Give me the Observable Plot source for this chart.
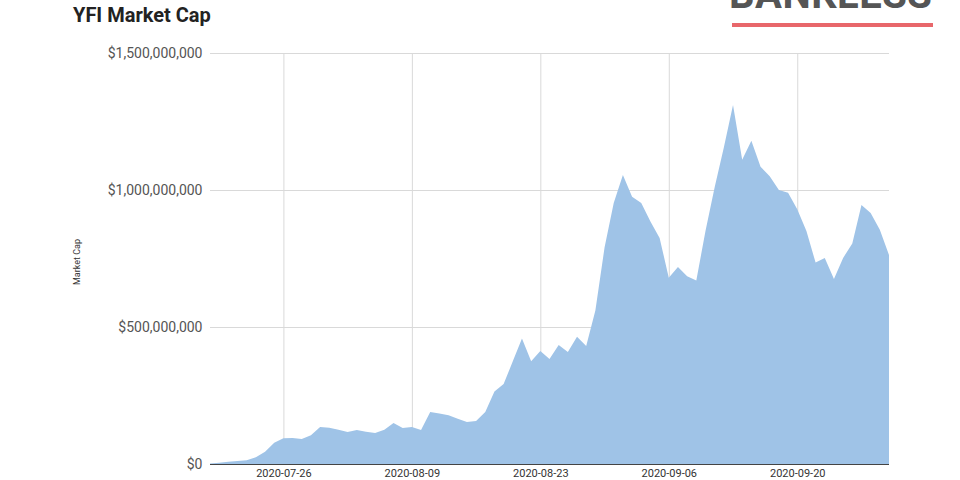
<!DOCTYPE html>
<html>
<head>
<meta charset="utf-8">
<script src="https://cdn.jsdelivr.net/npm/d3@7"></script>
<script src="https://cdn.jsdelivr.net/npm/@observablehq/plot@0.6"></script>
<style>
  html, body { margin: 0; padding: 0; background: #fff; }
  #wrap { position: relative; width: 960px; height: 480px; overflow: hidden; font-family: Roboto, "Open Sans", sans-serif; }
  #title { position: absolute; left: 73px; top: 3px; font-size: 20px; font-weight: 700; color: #222; }
  #logo { position: absolute; left: 729px; top: -25px; font-size: 40px; line-height: 40px; font-weight: 700; color: #555; letter-spacing: 0.5px; }
  #logobar { position: absolute; left: 732px; top: 23px; width: 201px; height: 4px; background: #e8676b; }
  #ylab { position: absolute; left: 77px; top: 262px; font-size: 9px; color: #333; transform: translate(-50%, -50%) rotate(-90deg); white-space: nowrap; }
  svg { position: absolute; left: 0; top: 0; }
</style>
</head>
<body>
<div id="wrap">
  <div id="chart"></div>
  <div id="title">YFI Market Cap</div>
  <div id="logo">BANKLESS</div>
  <div id="logobar"></div>
  <div id="ylab">Market Cap</div>
</div>
<script>
const startDate = "2020-07-18";
const marketCap = [
  2e6, 5e6, 8e6, 11e6, 14e6, 25e6, 45e6, 78e6, 94e6, 95e6,
  91e6, 105e6, 135e6, 132e6, 125e6, 117e6, 124e6, 118e6, 113e6, 125e6,
  150e6, 131e6, 135e6, 124e6, 190e6, 184e6, 178e6, 165e6, 153e6, 157e6,
  190e6, 265e6, 292e6, 375e6, 458e6, 375e6, 412e6, 383e6, 434e6, 409e6,
  464e6, 431e6, 560e6, 790e6, 953e6, 1055e6, 975e6, 953e6, 885e6, 825e6,
  680e6, 719e6, 685e6, 670e6, 850e6, 1010e6, 1155e6, 1310e6, 1110e6, 1180e6,
  1085e6, 1050e6, 1000e6, 990e6, 930e6, 850e6, 735e6, 752e6, 675e6, 752e6,
  805e6, 945e6, 916e6, 855e6, 763e6
];
const xTicks = ["2020-07-26", "2020-08-09", "2020-08-23", "2020-09-06", "2020-09-20"];
const yTicks = [0, 500e6, 1000e6, 1500e6];

const start = new Date(startDate + "T00:00:00Z");
const data = marketCap.map((v, i) => ({ date: d3.utcDay.offset(start, i), value: v }));
const xTickDates = xTicks.map(s => new Date(s + "T00:00:00Z"));

const chart = Plot.plot({
  width: 960,
  height: 480,
  marginLeft: 210,
  marginRight: 71,
  marginTop: 53,
  marginBottom: 16,
  style: { fontFamily: "Roboto, 'Open Sans', sans-serif", background: "transparent" },
  x: { type: "utc", domain: [data[0].date, data[data.length - 1].date] },
  y: { domain: [0, 1.5e9] },
  marks: [
    Plot.gridX(xTickDates, { stroke: "#d9d9d9", strokeOpacity: 1 }),
    Plot.gridY(yTicks, { stroke: "#d9d9d9", strokeOpacity: 1 }),
    Plot.areaY(data, { x: "date", y: "value", fill: "#9fc3e7", fillOpacity: 1, curve: "linear" }),
    Plot.ruleY([0], { stroke: "#444", strokeWidth: 1.2 }),
    Plot.axisX(xTickDates, { tickSize: 0, tickPadding: 5, tickFormat: d3.utcFormat("%Y-%m-%d"), fontSize: 11, fill: "#333", label: null }),
    Plot.axisY(yTicks, { tickSize: 0, tickPadding: 8, tickFormat: d3.format("$,"), fontSize: 14, fill: "#555", label: null })
  ]
});
document.getElementById("chart").appendChild(chart);
</script>
</body>
</html>
